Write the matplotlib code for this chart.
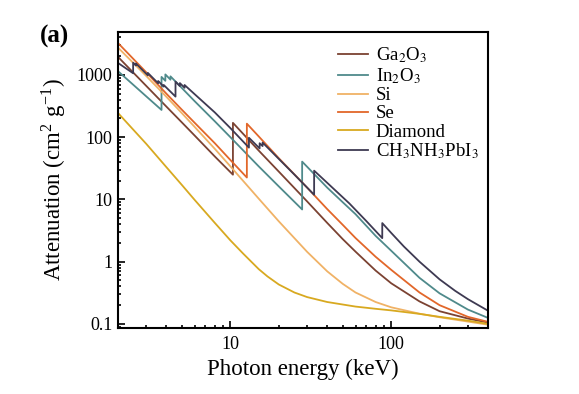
import numpy as np
import matplotlib
matplotlib.use('Agg')
import matplotlib.pyplot as plt
from matplotlib.ticker import LogLocator, NullFormatter, FixedLocator, FixedFormatter

plt.rcParams['font.family'] = 'Liberation Serif'
plt.rcParams['mathtext.fontset'] = 'stix'

# photon energy (keV) and mass attenuation (cm2/g)
e_ga2o3 = [2, 3, 4, 5, 6, 8, 10.37, 10.37, 15, 20, 30, 40, 50, 60, 80, 100, 150, 200, 300, 400]
a_ga2o3 = [1950, 665, 310, 172, 106, 49, 25, 170, 61, 28, 9.3, 4.2, 2.3, 1.45, 0.72, 0.45, 0.23, 0.16, 0.122, 0.105]

e_in2o3 = [2, 3, 3.73, 3.73, 3.94, 3.94, 4.24, 4.24, 5, 6, 8, 10, 15, 20, 27.94, 27.94,
           30, 40, 50, 60, 80, 100, 150, 200, 300, 400]
a_in2o3 = [1150, 452, 274, 930, 805, 1020, 840, 950, 614, 378, 180, 100, 34, 16.2, 6.9, 40.5,
           33.5, 15.5, 9.0, 5.8, 2.6, 1.5, 0.55, 0.31, 0.17, 0.125]

e_si = [2, 3, 4, 5, 6, 8, 10, 15, 20, 30, 40, 50, 60, 80, 100, 150, 200, 300, 400]
a_si = [2750, 960, 445, 242, 146, 65, 34, 10.3, 4.45, 1.44, 0.70, 0.44, 0.32, 0.225, 0.185, 0.146, 0.128, 0.109, 0.097]

e_se = [2, 3, 4, 5, 6, 8, 10, 12.66, 12.66, 15, 20, 30, 40, 50, 60, 80, 100, 150, 200, 300, 400]
a_se = [3260, 1100, 500, 275, 170, 80, 43, 22.5, 165, 103, 46, 15.5, 7.0, 3.9, 2.4, 1.2, 0.74, 0.32, 0.2, 0.13, 0.108]

e_dia = [2, 3, 4, 5, 6, 8, 10, 12, 15, 17, 20, 25, 30, 40, 50, 60, 80, 100, 150, 200, 300, 400]
a_dia = [245, 78, 33, 17, 9.8, 4.2, 2.2, 1.35, 0.76, 0.58, 0.43, 0.32, 0.27, 0.225, 0.205, 0.19,
         0.175, 0.165, 0.145, 0.13, 0.113, 0.1]

e_mapi = [2, 2.484, 2.484, 2.586, 2.586, 3.066, 3.066, 3.554, 3.554, 3.851, 3.851,
          4.557, 4.557, 4.852, 4.852, 5.188, 5.188, 6, 8, 10, 13.04, 13.04, 15.2, 15.2,
          15.86, 15.86, 20, 25, 33.17, 33.17, 40, 55, 70, 88, 88, 100, 120, 150, 200, 250, 300, 400]
a_mapi = [1560, 1065, 1575, 1420, 1530, 983, 1080, 735, 800, 650, 690,
          449, 781, 663, 740, 622, 690, 490, 250, 140, 68, 98, 66, 80,
          72, 82, 44.8, 25.1, 11.9, 29, 18.5, 8.6, 4.5, 2.39, 4.17, 2.9, 1.75, 1.0, 0.52, 0.34, 0.25, 0.163]

series = [
    (e_ga2o3, a_ga2o3, r'Ga$_2$O$_3$', '#7b4232'),
    (e_in2o3, a_in2o3, r'In$_2$O$_3$', '#4f8a8b'),
    (e_si, a_si, 'Si', '#f0b266'),
    (e_se, a_se, 'Se', '#e2672a'),
    (e_dia, a_dia, 'Diamond', '#d8a920'),
    (e_mapi, a_mapi, r'CH$_3$NH$_3$PbI$_3$', '#3e3a52'),
]

fig = plt.figure(figsize=(5.79, 3.94), dpi=100)
ax = fig.add_axes([118/579, 1 - 328/394, 370/579, 296/394])

for e, a, lab, col in series:
    ax.plot(e, a, color=col, lw=1.3, label=lab)

ax.set_xscale('log')
ax.set_yscale('log')
ax.set_xlim(2, 400)
ax.set_ylim(0.086, 4900)

ax.xaxis.set_major_locator(FixedLocator([10, 100]))
ax.xaxis.set_major_formatter(FixedFormatter(['10', '100']))
ax.xaxis.set_minor_locator(LogLocator(base=10, subs=np.arange(2, 10)))
ax.xaxis.set_minor_formatter(NullFormatter())

ax.yaxis.set_major_locator(FixedLocator([0.1, 1, 10, 100, 1000]))
ax.yaxis.set_major_formatter(FixedFormatter(['0.1', '1', '10', '100', '1000']))
ax.yaxis.set_minor_locator(LogLocator(base=10, subs=np.arange(2, 10)))
ax.yaxis.set_minor_formatter(NullFormatter())

ax.tick_params(which='both', direction='in', top=False, right=False, labelsize=13, width=1.2)
ax.tick_params(which='major', length=5)
ax.tick_params(axis='x', which='major', pad=6)
ax.tick_params(axis='y', which='major', pad=4)
ax.tick_params(which='minor', length=2.5)
for s in ax.spines.values():
    s.set_linewidth(1.5)

ax.set_xlabel('Photon energy (keV)', fontsize=16.5, labelpad=4)
ax.set_ylabel(r'Attenuation (cm$^{\mathregular{2}}$ g$^{\mathregular{-1}}$)', fontsize=16.5, labelpad=6)

ax.legend(loc='upper left', bbox_to_anchor=(0.595, 0.955), frameon=False, fontsize=13.5,
          handlelength=1.6, handletextpad=0.4, labelspacing=0.06, borderaxespad=0, borderpad=0)

fig.text(40/579, 1 - 36/394, '(a)', fontsize=18, fontweight='bold', va='center', ha='left')

fig.savefig('out.png', dpi=100)
